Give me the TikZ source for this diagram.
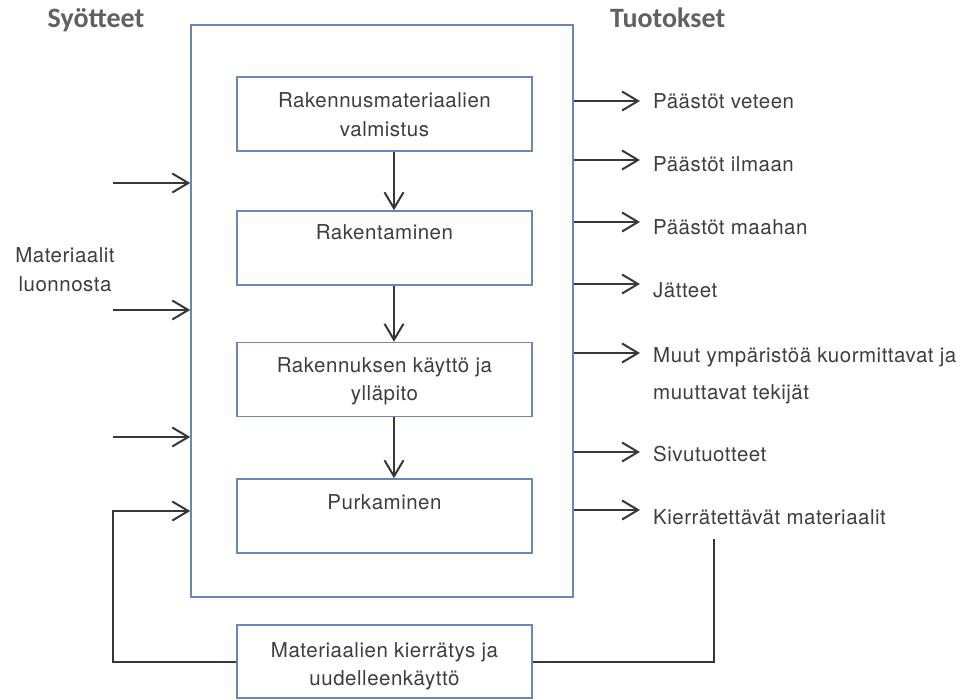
\documentclass[tikz,border=0pt]{standalone}
\usepackage{fontspec}
\setmainfont{TeX Gyre Heros}
\newfontfamily\bodyfont[LetterSpace=2.5]{TeX Gyre Heros}
\newfontfamily\titlefont{Carlito}
\usetikzlibrary{arrows.meta}
\definecolor{boxblue}{RGB}{106,135,181}
\definecolor{txtgray}{RGB}{62,62,62}
\definecolor{linegray}{RGB}{55,55,55}
\begin{document}
\begin{tikzpicture}[x=1pt,y=-1pt,
  pbox/.style={draw=boxblue, line width=1.5pt, minimum width=295pt, minimum height=74pt, inner sep=0pt},
  txt/.style={anchor=base, text=txtgray, font=\bodyfont\fontsize{20.5}{25}\selectfont, inner sep=0pt},
  rtxt/.style={txt, anchor=base west},
  ttl/.style={anchor=base, text=black!62, font=\titlefont\bfseries\fontsize{28}{32}\selectfont, inner sep=0pt},
  conn/.style={draw=linegray, line width=2pt},
  arr/.style={conn, -{Straight Barb[length=16pt,width=19pt]}}]
\useasboundingbox[fill=white] (0,0) rectangle (962,700);
% titles
\node[ttl] (tin) at (96,28) {Syötteet};
\node[ttl, anchor=base west] (tout) at (610,28) {Tuotokset};
% main frame
\node[draw=boxblue, line width=1.5pt, minimum width=382pt, minimum height=572pt, inner sep=0pt] (outer) at (382,311) {};
% process boxes
\node[pbox] (b1) at (384.5,114) {};
\node[pbox] (b2) at (384.5,248) {};
\node[pbox] (b3) at (384.5,379.5) {};
\node[pbox] (b4) at (384.5,516) {};
\node[pbox, minimum height=73pt] (b5) at (384.5,661.5) {};
% box texts
\node[txt] (t1a) at (384.5,108) {Rakennusmateriaalien};
\node[txt] (t1b) at (384.5,137) {valmistus};
\node[txt] (t2a) at (384.5,240) {Rakentaminen};
\node[txt] (t3a) at (384.5,373) {Rakennuksen käyttö ja};
\node[txt] (t3b) at (384.5,401) {ylläpito};
\node[txt] (t4a) at (384.5,510) {Purkaminen};
\node[txt] (t5a) at (384.5,657) {Materiaalien kierrätys ja};
\node[txt] (t5b) at (384.5,685) {uudelleenkäyttö};
% vertical flow arrows
\coordinate (ax) at (394,0);
\draw[arr] (b1.south -| ax) -- (b2.north -| ax);
\draw[arr] (b2.south -| ax) -- (b3.north -| ax);
\draw[arr] (b3.south -| ax) -- (b4.north -| ax);
% inputs
\coordinate (in1) at (113,183);
\coordinate (in2) at (113,310);
\coordinate (in3) at (113,437);
\coordinate (lp) at (113,511);
\draw[arr] (in1) -- (in1 -| outer.west);
\draw[arr] (in2) -- (in2 -| outer.west);
\draw[arr] (in3) -- (in3 -| outer.west);
\draw[arr] (b5.west) -| (lp) -- (lp -| outer.west);
\node[txt] (ml1) at (65,263) {Materiaalit};
\node[txt] (ml2) at (65,292) {luonnosta};
% outputs
\coordinate (o1) at (640,101);
\coordinate (o2) at (640,160);
\coordinate (o3) at (640,222);
\coordinate (o4) at (640,284);
\coordinate (o5) at (640,353);
\coordinate (o6) at (640,452);
\coordinate (o7) at (640,510);
\foreach \o in {o1,o2,o3,o4,o5,o6,o7}
  \draw[arr] (\o -| outer.east) -- (\o);
\node[rtxt] (r1) at (653,109) {Päästöt veteen};
\node[rtxt] (r2) at (653,172) {Päästöt ilmaan};
\node[rtxt] (r3) at (653,235) {Päästöt maahan};
\node[rtxt] (r4) at (653,298) {Jätteet};
\node[rtxt] (r5a) at (653,363) {Muut ympäristöä kuormittavat ja};
\node[rtxt] (r5b) at (653,400) {muuttavat tekijät};
\node[rtxt] (r6) at (653,462) {Sivutuotteet};
\node[rtxt] (r7) at (653,525) {Kierrätettävät materiaalit};
% return line
\coordinate (rt) at (714,539);
\draw[conn] (rt) |- (b5.east);
\end{tikzpicture}
\end{document}
